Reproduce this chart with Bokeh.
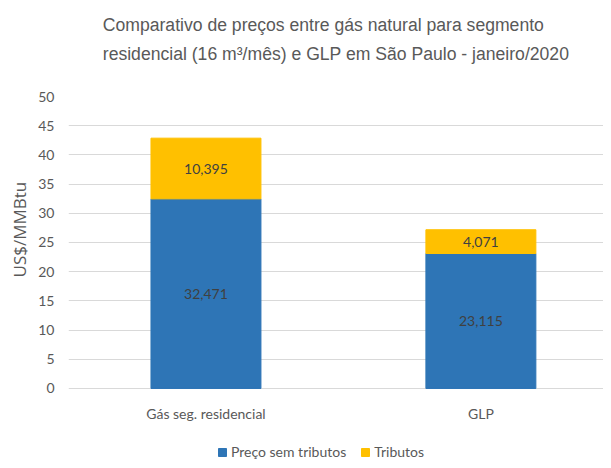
from bokeh.plotting import figure
from bokeh.models import (ColumnDataSource, Range1d, FixedTicker, Title, Legend, LegendItem)
from bokeh.core.properties import value
from bokeh.embed import file_html
from bokeh.resources import INLINE

# ---- data ----
categories = ["Gás seg. residencial", "GLP"]
preco_sem_tributos = [32.471, 23.115]
tributos = [10.395, 4.071]
series_names = ["Preço sem tributos", "Tributos"]
y_ticks = [0, 5, 10, 15, 20, 25, 30, 35, 40, 45, 50]
title_text = ("Comparativo de preços entre gás natural para segmento\n"
              "residencial (16 m³/mês) e GLP em São Paulo - janeiro/2020")
y_label = "US$/MMBtu"

BLUE = "#2E75B6"
YELLOW = "#FFC000"
GRAY = "#595959"
FONT = "Lato"

# layout constants (data units on the value axis, below zero)
Y_MIN = -12.33
CAT_LABEL_Y = -4.28

xs = [i + 0.5 for i in range(len(categories))]

def fmt(v):
    return f"{v:.3f}".replace(".", ",")

src = ColumnDataSource(dict(
    x=xs, preco=preco_sem_tributos, trib=tributos,
    preco_mid=[v / 2 for v in preco_sem_tributos],
    trib_mid=[a + b / 2 for a, b in zip(preco_sem_tributos, tributos)],
    preco_lbl=[fmt(v) for v in preco_sem_tributos],
    trib_lbl=[fmt(v) for v in tributos],
))
cat_src = ColumnDataSource(dict(x=xs, y=[CAT_LABEL_Y] * len(xs), t=categories))

p = figure(width=603, height=460, output_backend="svg", toolbar_location=None,
           x_range=Range1d(0, 1.946), y_range=Range1d(Y_MIN, 50),
           min_border_left=64, min_border_right=0, min_border_top=96,
           min_border_bottom=0, title=None)
p.outline_line_color = None

r = p.vbar_stack(["preco", "trib"], x="x", width=0.40, source=src,
                 color=[BLUE, YELLOW], line_color=[BLUE, YELLOW])

p.text(x="x", y="preco_mid", text="preco_lbl", source=src,
       text_align="center", text_baseline="middle", text_color="#404040",
       text_font=value(FONT), text_font_size="14px")
p.text(x="x", y="trib_mid", text="trib_lbl", source=src,
       text_align="center", text_baseline="middle", text_color="#404040",
       text_font=value(FONT), text_font_size="14px")
p.text(x="x", y="y", text="t", source=cat_src,
       text_align="center", text_baseline="middle", text_color=GRAY,
       text_font=value(FONT), text_font_size="14px")

# axes
p.xaxis.visible = False
p.yaxis.ticker = FixedTicker(ticks=y_ticks)
ax = p.yaxis[0]
ax.major_tick_line_color = None
ax.minor_tick_line_color = None
ax.major_tick_out = 0
ax.major_tick_in = 0
ax.minor_tick_out = 0
ax.axis_line_color = None
ax.major_label_text_font = FONT
ax.major_label_text_font_size = "14px"
ax.major_label_text_color = GRAY
ax.major_label_standoff = 14

# y-axis title as a side title, positioned along the axis
p.add_layout(Title(text=y_label, align="left", offset=183, standoff=10,
                   text_font="Open Sans", text_font_size="17px",
                   text_font_style="normal", text_color=GRAY), "left")

p.xgrid.grid_line_color = None
p.ygrid.grid_line_color = "#D9D9D9"
p.ygrid.grid_line_width = 1

# spacer between title and plot (nearest the plot), then the title
p.add_layout(Title(text=" ", text_font_size="12px", standoff=6), "above")
p.add_layout(Title(text=title_text, align="center", text_font="Liberation Sans",
                   text_font_size="17.6px", text_font_style="normal", text_color=GRAY,
                   text_line_height=1.48, standoff=20), "above")

legend = Legend(items=[LegendItem(label=series_names[0], renderers=[r[0]]),
                       LegendItem(label=series_names[1], renderers=[r[1]])],
                orientation="horizontal", location=(149, 0),
                label_text_font=FONT, label_text_font_size="14px",
                label_text_color=GRAY, glyph_width=10, glyph_height=10,
                label_standoff=4, spacing=14, padding=0, margin=0,
                border_line_color=None, background_fill_alpha=0)
p.add_layout(legend, "center")

open("out.html", "w").write(file_html(p, INLINE))
